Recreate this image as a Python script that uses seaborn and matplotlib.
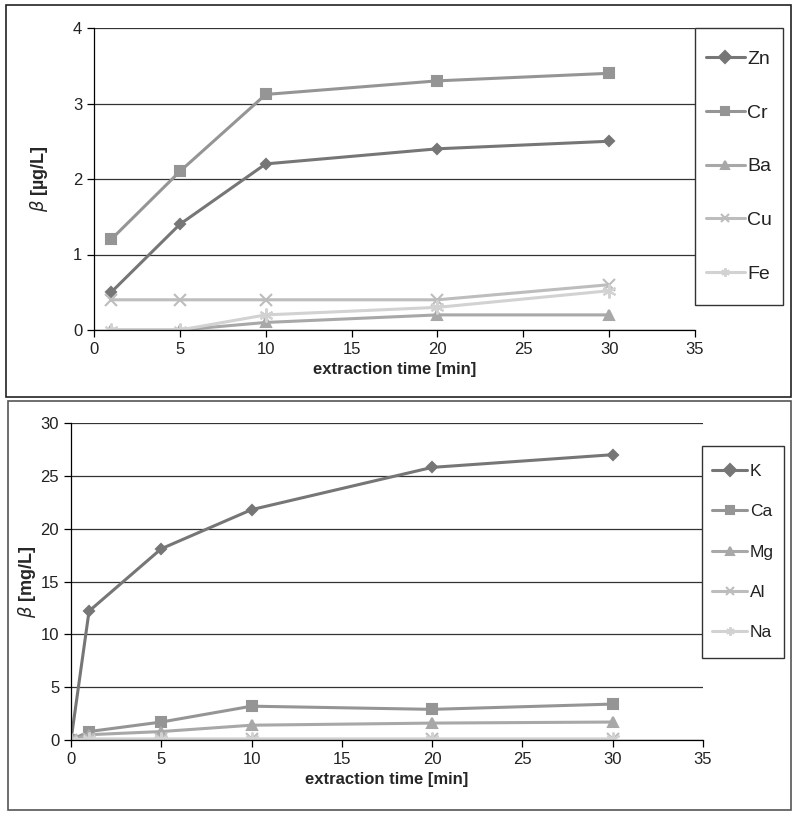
import matplotlib
matplotlib.use('Agg')
import matplotlib.pyplot as plt
import numpy as np
import pandas as pd
import seaborn as sns
from matplotlib.patches import Rectangle

sns.set_theme(style="white")
plt.rcParams['font.family'] = ['Liberation Sans', 'DejaVu Sans']

# top panel: trace metals [ug/L]
time_top = [1, 5, 10, 20, 30]
zn = [0.5, 1.4, 2.2, 2.4, 2.5]
cr = [1.2, 2.1, 3.12, 3.3, 3.4]
ba = [0.0, 0.0, 0.1, 0.2, 0.2]
cu = [0.4, 0.4, 0.4, 0.4, 0.6]
fe = [0.0, 0.0, 0.2, 0.3, 0.52]

# bottom panel: major elements [mg/L]
time_bot = [0, 1, 5, 10, 20, 30]
k = [0.0, 12.2, 18.1, 21.8, 25.8, 27.0]
ca = [0.0, 0.8, 1.7, 3.2, 2.9, 3.4]
mg = [0.0, 0.5, 0.8, 1.4, 1.6, 1.7]
al = [0.0, 0.05, 0.05, 0.05, 0.05, 0.05]
na = [0.0, 0.1, 0.1, 0.1, 0.1, 0.1]

top_series = {'Zn': zn, 'Cr': cr, 'Ba': ba, 'Cu': cu, 'Fe': fe}
bot_series = {'K': k, 'Ca': ca, 'Mg': mg, 'Al': al, 'Na': na}

colors = ['#767676', '#959595', '#a8a8a8', '#bdbdbd', '#d2d2d2']
markers = ['D', 's', '^', 'x', (6, 2, 0)]
msizes = [5.5, 6.5, 6.5, 9, 10]


def make_df(times, series):
    rows = []
    for name, vals in series.items():
        for t, v in zip(times, vals):
            rows.append([name, t, v])
    return pd.DataFrame(rows, columns=['element', 'time', 'value'])


def draw_panel(ax, times, series, ymax, ystep, ylabel, legend_box, legend_fs, spacing):
    df = make_df(times, series)
    names = list(series.keys())
    for i, name in enumerate(names):
        sub = df[df['element'] == name]
        sns.lineplot(data=sub, x='time', y='value', ax=ax, color=colors[i],
                     marker=markers[i], markersize=msizes[i], linewidth=2.2,
                     markeredgecolor=colors[i], markeredgewidth=1.5, label=name)
    ax.set_xlim(0, 35)
    ax.set_ylim(0, ymax)
    ax.set_xticks(np.arange(0, 36, 5))
    ax.set_yticks(np.arange(0, ymax + 0.01, ystep))
    ax.yaxis.grid(True, color='#333333', linewidth=0.9)
    ax.set_axisbelow(True)
    for s in ['top', 'right']:
        ax.spines[s].set_visible(False)
    for s in ['left', 'bottom']:
        ax.spines[s].set_color('black')
        ax.spines[s].set_linewidth(0.9)
    ax.tick_params(axis='both', direction='out', length=5, width=0.9, color='black',
                   labelsize=12, labelcolor='#222222', bottom=True, left=True)
    ax.set_xlabel('extraction time [min]', fontsize=12, fontweight='bold', labelpad=4)
    ax.set_ylabel(r'$\beta$' + ' ' + ylabel, fontsize=13, fontweight='bold')

    # legend frame drawn by hand so its size matches the original box
    fig = ax.figure
    x0, y0, w, h = legend_box
    fig.patches.append(Rectangle((x0, y0), w, h, transform=fig.transFigure, fill=False,
                                 edgecolor='#333333', linewidth=1.0, zorder=5))
    leg = ax.legend(loc='center', bbox_to_anchor=(x0 + w / 2, y0 + h / 2),
                    bbox_transform=fig.transFigure, frameon=False, fontsize=legend_fs,
                    labelspacing=spacing, handlelength=2.0, handletextpad=0.15,
                    borderpad=0, borderaxespad=0)
    for h_ in leg.legend_handles:
        h_.set_markersize(6)
    for t in leg.get_texts():
        t.set_color('#222222')


fig = plt.figure(figsize=(7.96, 8.15), dpi=100)

# outer frames
fig.patches.append(Rectangle((6 / 796, 1 - 397 / 815), 785 / 796, 392 / 815, transform=fig.transFigure,
                             fill=False, edgecolor='#222222', linewidth=1.2))
fig.patches.append(Rectangle((8 / 796, 1 - 810 / 815), 783 / 796, 409 / 815, transform=fig.transFigure,
                             fill=False, edgecolor='#555555', linewidth=1.2))

ax1 = fig.add_axes([94 / 796, 1 - 330 / 815, 601 / 796, 302 / 815])
draw_panel(ax1, time_top, top_series, 4, 1, '[µg/L]',
           (695 / 796, 1 - 305 / 815, 88 / 796, 277 / 815), 14, 1.86)
ax1.yaxis.set_label_coords(-0.073, 0.5)

ax2 = fig.add_axes([71 / 796, 1 - 740 / 815, 632 / 796, 317 / 815])
draw_panel(ax2, time_bot, bot_series, 30, 5, '[mg/L]',
           (702 / 796, 1 - 658 / 815, 82 / 796, 212 / 815), 12.5, 1.44)
ax2.yaxis.set_label_coords(-0.052, 0.5)

fig.savefig('out.png', dpi=100)
